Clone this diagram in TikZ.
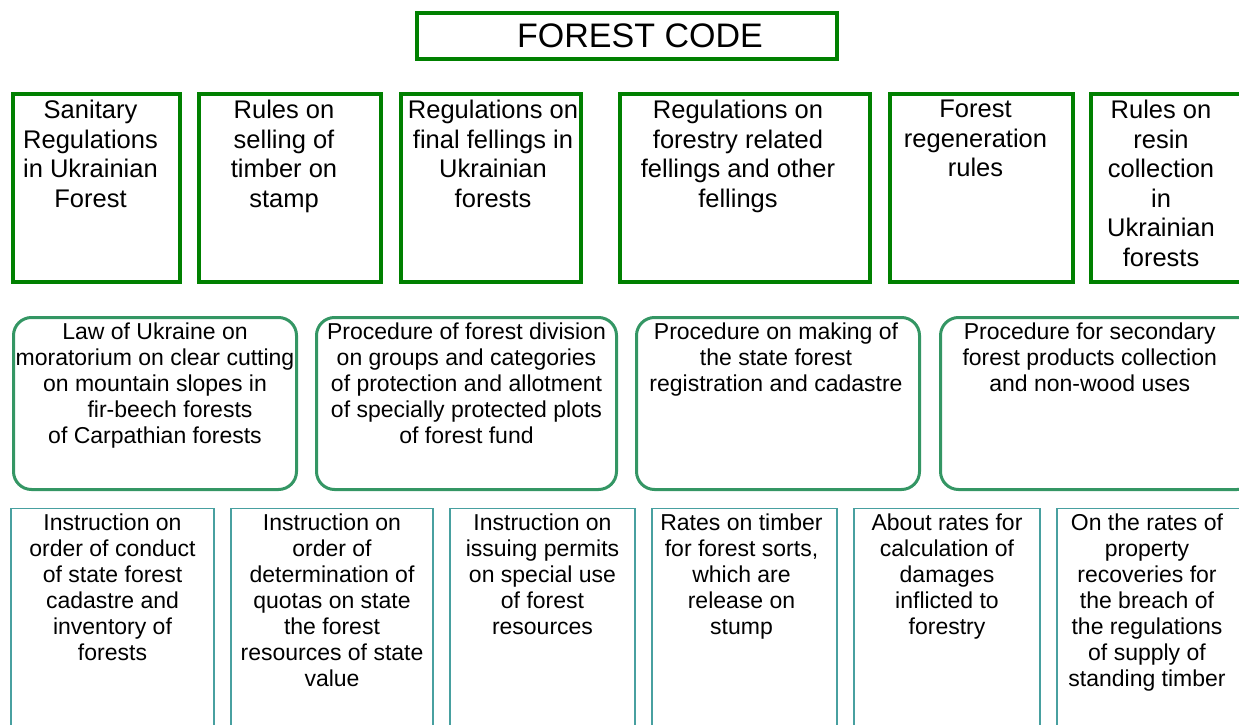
\documentclass[tikz,border=0pt]{standalone}
\usepackage{fontspec}
\setmainfont{Liberation Sans}
\usetikzlibrary{positioning}
\definecolor{codegreen}{RGB}{0,128,0}
\definecolor{ordergreen}{RGB}{52,150,100}
\definecolor{instrteal}{RGB}{72,160,160}

\begin{document}
\begin{tikzpicture}[x=1pt,y=-1pt,
  rules/.style={draw=codegreen,line width=4pt,minimum height=188pt,inner sep=0pt},
  order/.style={draw=ordergreen,line width=3pt,rounded corners=18pt,minimum height=172pt,inner sep=0pt},
  instr/.style={draw=instrteal,line width=1.2pt,minimum height=260pt,inner sep=0pt},
  rtext/.style={align=center,inner sep=0pt,font=\fontsize{25.5}{29.5}\selectfont},
  stext/.style={align=center,inner sep=0pt,font=\fontsize{23}{26}\selectfont}]
\useasboundingbox (0,0) rectangle (1239,725);
\clip (0,0) rectangle (1239,725);

% title
\node [draw=codegreen,line width=4pt,minimum width=420pt,minimum height=46pt,inner sep=0pt] (t) at (627,36) {};
\node [inner sep=0pt,font=\fontsize{34}{40}\selectfont,xshift=13pt] (tt) at (t.center) {FOREST CODE};

% rules and regulations
\node [rules,minimum width=167pt] (r1) at (96.5,188) {};
\node [rules,minimum width=182pt] (r2) at (290,188) {};
\node [rules,minimum width=180pt] (r3) at (491,188) {};
\node [rules,minimum width=250pt] (r4) at (745,188) {};
\node [rules,minimum width=183pt] (r5) at (981.5,188) {};
\node [rules,minimum width=152pt] (r6) at (1167,188) {};
\node [rtext,below=8pt of r1.north,xshift=-6pt] (r1t) {Sanitary\\Regulations\\in Ukrainian\\Forest};
\node [rtext,below=8pt of r2.north,xshift=-6pt] (r2t) {Rules on\\selling of\\timber on\\stamp};
\node [rtext,below=8pt of r3.north,xshift=2pt] (r3t) {Regulations on\\final fellings in\\Ukrainian\\forests};
\node [rtext,below=8pt of r4.north,xshift=-7pt] (r4t) {Regulations on\\forestry related\\fellings and other\\fellings};
\node [rtext,below=8pt of r5.north,xshift=-6pt] (r5t) {Forest\\regeneration\\rules};
\node [rtext,below=8pt of r6.north,xshift=-6pt] (r6t) {Rules on\\resin\\collection\\in\\Ukrainian\\forests};

% procedures
\node [order,minimum width=283pt] (p1) at (155,403.5) {};
\node [order,minimum width=300pt] (p2) at (466.5,403.5) {};
\node [order,minimum width=283pt] (p3) at (778,403.5) {};
\node [order,minimum width=314.5pt] (p4) at (1097.75,403.5) {};
\node [stext,below=6.7pt of p1.north] (p1t) {Law of Ukraine on\\moratorium on clear cutting\\on mountain slopes in\hspace*{14pt}\\\hspace*{30pt}fir-beech forests\\of Carpathian forests};
\node [stext,below=6.7pt of p2.north] (p2t) {Procedure of forest division\\on groups and categories\\of protection and allotment\\of specially protected plots\\of forest fund};
\node [stext,below=6.7pt of p3.north,xshift=-2pt] (p3t) {Procedure on making of\\the state forest\\registration and cadastre};
\node [stext,below=6.7pt of p4.north,xshift=-8pt] (p4t) {Procedure for secondary\\forest products collection\\and non-wood uses};

% instructions and rates
\node [instr,minimum width=203pt] (n1) at (112.5,638.5) {};
\node [instr,minimum width=202pt] (n2) at (332,638.5) {};
\node [instr,minimum width=185pt] (n3) at (542.5,638.5) {};
\node [instr,minimum width=185pt] (n4) at (744.5,638.5) {};
\node [instr,minimum width=186pt] (n5) at (947,638.5) {};
\node [instr,minimum width=188pt] (n6) at (1151,638.5) {};
\node [stext,below=5.7pt of n1.north] (n1t) {Instruction on\\order of conduct\\of state forest\\cadastre and\\inventory of\\forests};
\node [stext,below=5.7pt of n2.north] (n2t) {Instruction on\\order of\\determination of\\quotas on state\\the forest\\resources of state\\value};
\node [stext,below=5.7pt of n3.north] (n3t) {Instruction on\\issuing permits\\on special use\\of forest\\resources};
\node [stext,below=5.7pt of n4.north,xshift=-3pt] (n4t) {Rates on timber\\for forest sorts,\\which are\\release on\\stump};
\node [stext,below=5.7pt of n5.north] (n5t) {About rates for\\calculation of\\damages\\inflicted to\\forestry};
\node [stext,below=5.7pt of n6.north,xshift=-4pt] (n6t) {On the rates of\\property\\recoveries for\\the breach of\\the regulations\\of supply of\\standing timber};
\end{tikzpicture}
\end{document}
